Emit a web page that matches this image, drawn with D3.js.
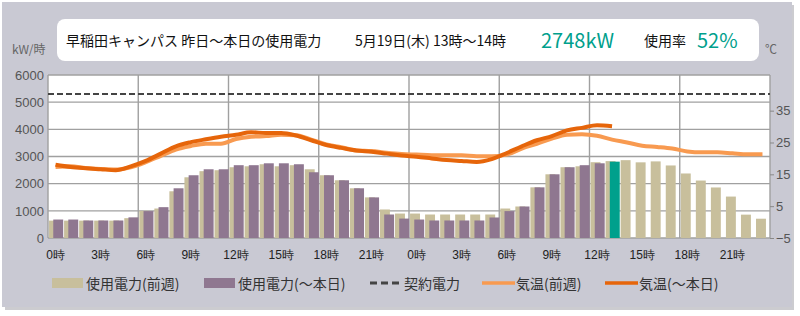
<!DOCTYPE html>
<html lang="ja">
<head>
<meta charset="UTF-8" />
<title>早稲田キャンパス 使用電力</title>
<script src="https://d3js.org/d3.v7.min.js"></script>
<style>
  body { margin: 0; background: #fff; }
  svg { display: block; font-family: "Noto Sans CJK JP", "Noto Sans", sans-serif; }
  .grid line { stroke: #a0a0a0; stroke-width: 1.4px; }
  .axis text { fill: #555; font-size: 13px; }
  .xaxis text { fill: #222; font-size: 12px; }
  .legend text { fill: #333; font-size: 14px; }
</style>
</head>
<body>
<svg width="800" height="316"></svg>
<script>
// hour labels for the 48 slots (yesterday 0-23, today 0-23)
const hours = d3.range(48).map(i => (i % 24) + '時');

// 使用電力(前週) kW, all 48 hours
const prevPower = [640, 640, 640, 640, 640, 730, 1000, 1085, 1720, 2235, 2460, 2495,
  2605, 2640, 2715, 2640, 2680, 2530, 2310, 2125, 1830, 1495, 1050, 900,
  900, 865, 865, 865, 865, 865, 1085, 1160, 1865, 2345, 2605, 2640,
  2790, 2830, 2865, 2785, 2820, 2670, 2375, 2115, 1860, 1525, 860, 710];

// 使用電力(～本日) kW, up to the current hour (last one is highlighted)
const todayPower = [680, 680, 645, 645, 645, 760, 990, 1135, 1830, 2310, 2530, 2530,
  2680, 2680, 2750, 2750, 2715, 2420, 2310, 2125, 1830, 1495, 865, 715,
  680, 645, 645, 645, 645, 755, 990, 1160, 1865, 2345, 2605, 2680,
  2750, 2810];

// 気温(前週) ℃
const prevTemp = [17.3, 17.5, 17.0, 16.7, 16.5, 17.2, 18.8, 20.8, 22.8, 23.9, 24.6, 24.6,
  26.1, 26.8, 27.0, 27.4, 27.3, 25.9, 24.4, 23.5, 22.5, 22.3, 21.8, 21.4,
  21.2, 21.0, 21.0, 21.0, 20.7, 20.7, 21.2, 23.1, 24.6, 26.2, 27.4, 27.6,
  27.1, 25.9, 25.0, 24.0, 23.6, 23.1, 22.2, 21.9, 21.9, 21.6, 21.3, 21.3];

// 気温(～本日) ℃
const todayTemp = [18.0, 17.3, 16.9, 16.6, 16.3, 17.5, 19.2, 21.5, 23.8, 25.1, 26.0, 26.8,
  27.4, 28.2, 28.0, 28.0, 27.2, 25.7, 24.2, 23.3, 22.5, 22.1, 21.5, 20.9,
  20.5, 20.0, 19.5, 19.2, 18.9, 19.8, 21.7, 23.8, 25.7, 27.0, 28.8, 29.6,
  30.4, 30.1];

const contract = 5300;
const powerTicks = [0, 1000, 2000, 3000, 4000, 5000, 6000];
const tempTicks = [-5, 5, 15, 25, 35];

const header = {
  title: '早稲田キャンパス 昨日～本日の使用電力',
  time: '5月19日(木) 13時～14時',
  value: '2748kW',
  rateLabel: '使用率',
  rate: '52%'
};

const colors = {
  prev: '#c8bf9c',
  today: '#8f7790',
  now: '#00a08c',
  tPrev: '#f89a50',
  tToday: '#e6650a',
  contract: '#444'
};

const svg = d3.select('svg');
const plotL = 48, plotR = 770, plotT = 75, plotB = 238;

// panel
svg.append('rect').attr('x', 5).attr('y', 5).attr('width', 789).attr('height', 305)
  .attr('fill', '#9a9aa2').attr('opacity', 0.5);
svg.append('rect').attr('x', 2).attr('y', 2).attr('width', 790).attr('height', 305)
  .attr('fill', '#c9c9d3');

// header box
svg.append('rect').attr('x', 57).attr('y', 19).attr('width', 702).attr('height', 42)
  .attr('rx', 8).attr('fill', '#fff');
const hg = svg.append('g').attr('dominant-baseline', 'central');
hg.append('text').attr('x', 66).attr('y', 40).attr('font-size', 14).attr('fill', '#111')
  .text(header.title);
hg.append('text').attr('x', 355).attr('y', 40).attr('font-size', 14).attr('fill', '#111')
  .text(header.time);
hg.append('text').attr('x', 541).attr('y', 39).attr('font-size', 20).attr('fill', colors.now)
  .text(header.value);
hg.append('text').attr('x', 644).attr('y', 40).attr('font-size', 14).attr('fill', '#111')
  .text(header.rateLabel);
hg.append('text').attr('x', 697).attr('y', 39).attr('font-size', 20).attr('fill', colors.now)
  .text(header.rate);

svg.append('text').attr('x', 12).attr('y', 54).attr('font-size', 12).attr('fill', '#666')
  .text('kW/時');
svg.append('text').attr('x', 765).attr('y', 54).attr('font-size', 12).attr('fill', '#666')
  .text('℃');

// scales
const x = d3.scaleBand().domain(d3.range(48)).range([plotL, plotR]).padding(0);
const bw = x.bandwidth();
const y = d3.scaleLinear().domain([0, 6000]).range([plotB, plotT]);
const yT = d3.scaleLinear().domain([-5, 46.2]).range([plotB, plotT]);

svg.append('rect').attr('x', plotL).attr('y', plotT).attr('width', plotR - plotL)
  .attr('height', plotB - plotT).attr('fill', '#fff');

// grid
const grid = svg.append('g').attr('class', 'grid');
grid.selectAll('.h').data(powerTicks).enter().append('line')
  .attr('x1', plotL).attr('x2', plotR)
  .attr('y1', d => y(d)).attr('y2', d => y(d));
grid.selectAll('.v').data(d3.range(0, 49, 6)).enter().append('line')
  .attr('x1', d => plotL + d * bw).attr('x2', d => plotL + d * bw)
  .attr('y1', plotT).attr('y2', plotB);

// bars
svg.append('g').selectAll('rect').data(prevPower).enter().append('rect')
  .attr('x', (d, i) => x(i) + bw * 0.07)
  .attr('width', bw * 0.66)
  .attr('y', d => y(d))
  .attr('height', d => y(0) - y(d))
  .attr('fill', colors.prev);

svg.append('g').selectAll('rect').data(todayPower).enter().append('rect')
  .attr('x', (d, i) => x(i) + bw * 0.35)
  .attr('width', bw * 0.66)
  .attr('y', d => y(d))
  .attr('height', d => y(0) - y(d))
  .attr('fill', (d, i) => i === todayPower.length - 1 ? colors.now : colors.today);

// contract line
svg.append('line').attr('x1', plotL).attr('x2', plotR)
  .attr('y1', y(contract)).attr('y2', y(contract))
  .attr('stroke', colors.contract).attr('stroke-width', 2)
  .attr('stroke-dasharray', '6,3');

// temperature lines
const line = d3.line()
  .x((d, i) => x(i) + bw / 2)
  .y(d => yT(d))
  .curve(d3.curveMonotoneX);

svg.append('path').datum(prevTemp).attr('d', line)
  .attr('fill', 'none').attr('stroke', colors.tPrev).attr('stroke-width', 4);
svg.append('path').datum(todayTemp).attr('d', line)
  .attr('fill', 'none').attr('stroke', colors.tToday).attr('stroke-width', 4);

// left axis
svg.append('g').attr('class', 'axis')
  .attr('transform', `translate(${plotL},0)`)
  .call(d3.axisLeft(y).tickValues(powerTicks).tickFormat(d3.format('d')).tickSize(0).tickPadding(4))
  .call(g => g.select('.domain').remove())
  .selectAll('text').attr('font-family', null).attr('font-size', null);

// right axis
svg.append('g').attr('class', 'axis')
  .attr('transform', `translate(${plotR},0)`)
  .call(d3.axisRight(yT).tickValues(tempTicks).tickSize(4).tickPadding(2))
  .call(g => g.select('.domain').remove())
  .call(g => g.selectAll('line').attr('stroke', '#888'))
  .selectAll('text').attr('font-family', null).attr('font-size', null);

// x axis labels every 3 hours
svg.append('g').attr('class', 'xaxis')
  .attr('transform', `translate(0,${plotB + 6})`)
  .call(d3.axisBottom(x).tickValues(d3.range(0, 48, 3)).tickFormat(i => hours[i]).tickSize(0).tickPadding(6))
  .call(g => g.select('.domain').remove())
  .selectAll('text').attr('font-family', null).attr('font-size', null);

// legend
const legend = svg.append('g').attr('class', 'legend');
const items = [
  { label: '使用電力(前週)', type: 'bar', color: colors.prev, x: 52 },
  { label: '使用電力(～本日)', type: 'bar', color: colors.today, x: 204 },
  { label: '契約電力', type: 'dash', color: colors.contract, x: 370 },
  { label: '気温(前週)', type: 'line', color: colors.tPrev, x: 482 },
  { label: '気温(～本日)', type: 'line', color: colors.tToday, x: 605 }
];
const ly = 283;
items.forEach(it => {
  if (it.type === 'bar') {
    legend.append('rect').attr('x', it.x).attr('y', ly - 5).attr('width', 31).attr('height', 10)
      .attr('fill', it.color);
  } else {
    legend.append('line').attr('x1', it.x).attr('x2', it.x + 33).attr('y1', ly).attr('y2', ly)
      .attr('stroke', it.color).attr('stroke-width', it.type === 'dash' ? 3 : 3.5)
      .attr('stroke-dasharray', it.type === 'dash' ? '7,4' : null);
  }
  legend.append('text').attr('x', it.x + 34).attr('y', ly)
    .attr('dominant-baseline', 'central').text(it.label);
});
</script>
</body>
</html>
